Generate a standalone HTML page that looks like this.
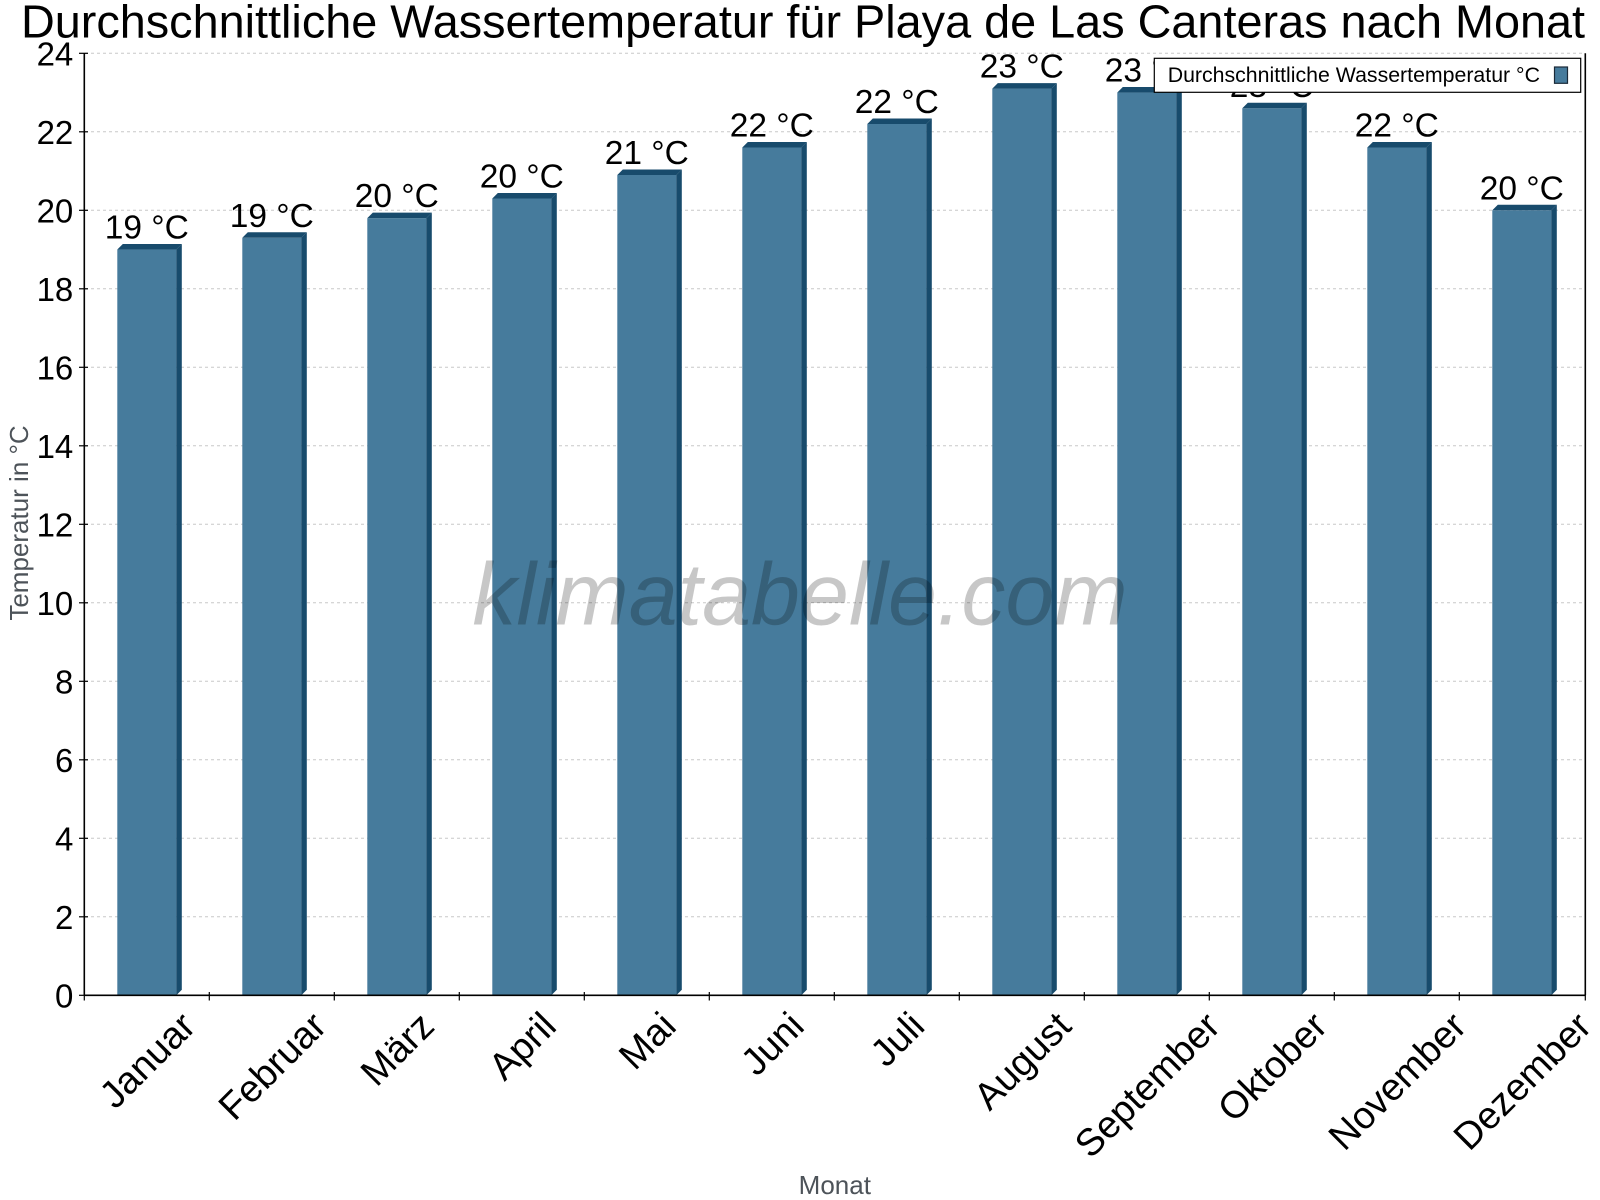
<!DOCTYPE html>
<html>
<head>
<meta charset="utf-8">
<style>
html,body{margin:0;padding:0;background:#fff;}
svg{display:block;}
text{font-family:"Liberation Sans",Arial,sans-serif;}
</style>
</head>
<body>
<svg width="1600" height="1200" viewBox="0 0 1600 1200" xmlns="http://www.w3.org/2000/svg">
<rect width="1600" height="1200" fill="#fff"/>
<!-- title -->
<text x="803" y="37.5" font-size="46.8" text-anchor="middle" fill="#000">Durchschnittliche Wassertemperatur für Playa de Las Canteras nach Monat</text>

<!-- grid -->
<g stroke="#c8c8c8" stroke-width="1" stroke-dasharray="3 3">
<line x1="85" y1="53.3" x2="1585" y2="53.3"/>
<line x1="85" y1="131.8" x2="1585" y2="131.8"/>
<line x1="85" y1="210.3" x2="1585" y2="210.3"/>
<line x1="85" y1="288.8" x2="1585" y2="288.8"/>
<line x1="85" y1="367.3" x2="1585" y2="367.3"/>
<line x1="85" y1="445.8" x2="1585" y2="445.8"/>
<line x1="85" y1="524.3" x2="1585" y2="524.3"/>
<line x1="85" y1="602.8" x2="1585" y2="602.8"/>
<line x1="85" y1="681.3" x2="1585" y2="681.3"/>
<line x1="85" y1="759.8" x2="1585" y2="759.8"/>
<line x1="85" y1="838.3" x2="1585" y2="838.3"/>
<line x1="85" y1="916.8" x2="1585" y2="916.8"/>
</g>

<!-- bars -->
<g id="bars">
<rect x="117.3" y="249.55" width="59" height="745.75" fill="#467b9c"/>
<polygon points="176.3,249.55 181.8,244.05 181.8,989.8 176.3,995.3" fill="#184b6c"/>
<polygon points="117.3,249.55 122.8,244.05 181.8,244.05 176.3,249.55" fill="#184b6c"/>
<rect x="242.3" y="237.8" width="59" height="757.5" fill="#467b9c"/>
<polygon points="301.3,237.8 306.8,232.3 306.8,989.8 301.3,995.3" fill="#184b6c"/>
<polygon points="242.3,237.8 247.8,232.3 306.8,232.3 301.3,237.8" fill="#184b6c"/>
<rect x="367.3" y="218.15" width="59" height="777.15" fill="#467b9c"/>
<polygon points="426.3,218.15 431.8,212.65 431.8,989.8 426.3,995.3" fill="#184b6c"/>
<polygon points="367.3,218.15 372.8,212.65 431.8,212.65 426.3,218.15" fill="#184b6c"/>
<rect x="492.3" y="198.5" width="59" height="796.8" fill="#467b9c"/>
<polygon points="551.3,198.5 556.8,193 556.8,989.8 551.3,995.3" fill="#184b6c"/>
<polygon points="492.3,198.5 497.8,193 556.8,193 551.3,198.5" fill="#184b6c"/>
<rect x="617.3" y="175" width="59" height="820.3" fill="#467b9c"/>
<polygon points="676.3,175 681.8,169.5 681.8,989.8 676.3,995.3" fill="#184b6c"/>
<polygon points="617.3,175 622.8,169.5 681.8,169.5 676.3,175" fill="#184b6c"/>
<rect x="742.3" y="147.5" width="59" height="847.8" fill="#467b9c"/>
<polygon points="801.3,147.5 806.8,142 806.8,989.8 801.3,995.3" fill="#184b6c"/>
<polygon points="742.3,147.5 747.8,142 806.8,142 801.3,147.5" fill="#184b6c"/>
<rect x="867.3" y="123.95" width="59" height="871.35" fill="#467b9c"/>
<polygon points="926.3,123.95 931.8,118.45 931.8,989.8 926.3,995.3" fill="#184b6c"/>
<polygon points="867.3,123.95 872.8,118.45 931.8,118.45 926.3,123.95" fill="#184b6c"/>
<rect x="992.3" y="88.6" width="59" height="906.7" fill="#467b9c"/>
<polygon points="1051.3,88.6 1056.8,83.1 1056.8,989.8 1051.3,995.3" fill="#184b6c"/>
<polygon points="992.3,88.6 997.8,83.1 1056.8,83.1 1051.3,88.6" fill="#184b6c"/>
<rect x="1117.3" y="92.55" width="59" height="902.75" fill="#467b9c"/>
<polygon points="1176.3,92.55 1181.8,87.05 1181.8,989.8 1176.3,995.3" fill="#184b6c"/>
<polygon points="1117.3,92.55 1122.8,87.05 1181.8,87.05 1176.3,92.55" fill="#184b6c"/>
<rect x="1242.3" y="108.25" width="59" height="887.05" fill="#467b9c"/>
<polygon points="1301.3,108.25 1306.8,102.75 1306.8,989.8 1301.3,995.3" fill="#184b6c"/>
<polygon points="1242.3,108.25 1247.8,102.75 1306.8,102.75 1301.3,108.25" fill="#184b6c"/>
<rect x="1367.3" y="147.5" width="59" height="847.8" fill="#467b9c"/>
<polygon points="1426.3,147.5 1431.8,142 1431.8,989.8 1426.3,995.3" fill="#184b6c"/>
<polygon points="1367.3,147.5 1372.8,142 1431.8,142 1426.3,147.5" fill="#184b6c"/>
<rect x="1492.3" y="210.3" width="59" height="785" fill="#467b9c"/>
<polygon points="1551.3,210.3 1556.8,204.8 1556.8,989.8 1551.3,995.3" fill="#184b6c"/>
<polygon points="1492.3,210.3 1497.8,204.8 1556.8,204.8 1551.3,210.3" fill="#184b6c"/>
</g>

<!-- watermark -->
<text x="800" y="624.3" font-size="88" font-style="italic" text-anchor="middle" fill="#000" fill-opacity="0.22">klimatabelle.com</text>

<!-- axes -->
<g stroke="#000" stroke-width="1.6" fill="none">
<line x1="84.3" y1="53.3" x2="84.3" y2="995.3"/>
<line x1="84.3" y1="995.3" x2="1585.3" y2="995.3"/>
<line x1="1585.3" y1="53.3" x2="1585.3" y2="995.3"/>
</g>
<g stroke="#000" stroke-width="1.2">
<line x1="79" y1="53.3" x2="88" y2="53.3"/>
<line x1="79" y1="131.8" x2="88" y2="131.8"/>
<line x1="79" y1="210.3" x2="88" y2="210.3"/>
<line x1="79" y1="288.8" x2="88" y2="288.8"/>
<line x1="79" y1="367.3" x2="88" y2="367.3"/>
<line x1="79" y1="445.8" x2="88" y2="445.8"/>
<line x1="79" y1="524.3" x2="88" y2="524.3"/>
<line x1="79" y1="602.8" x2="88" y2="602.8"/>
<line x1="79" y1="681.3" x2="88" y2="681.3"/>
<line x1="79" y1="759.8" x2="88" y2="759.8"/>
<line x1="79" y1="838.3" x2="88" y2="838.3"/>
<line x1="79" y1="916.8" x2="88" y2="916.8"/>
<line x1="79" y1="995.3" x2="88" y2="995.3"/>
<line x1="84.3" y1="992" x2="84.3" y2="1000.5"/>
<line x1="209.3" y1="992" x2="209.3" y2="1000.5"/>
<line x1="334.3" y1="992" x2="334.3" y2="1000.5"/>
<line x1="459.3" y1="992" x2="459.3" y2="1000.5"/>
<line x1="584.3" y1="992" x2="584.3" y2="1000.5"/>
<line x1="709.3" y1="992" x2="709.3" y2="1000.5"/>
<line x1="834.3" y1="992" x2="834.3" y2="1000.5"/>
<line x1="959.3" y1="992" x2="959.3" y2="1000.5"/>
<line x1="1084.3" y1="992" x2="1084.3" y2="1000.5"/>
<line x1="1209.3" y1="992" x2="1209.3" y2="1000.5"/>
<line x1="1334.3" y1="992" x2="1334.3" y2="1000.5"/>
<line x1="1459.3" y1="992" x2="1459.3" y2="1000.5"/>
<line x1="1585.3" y1="992" x2="1585.3" y2="1000.5"/>
</g>

<!-- y tick labels -->
<g font-size="33" text-anchor="end" fill="#000">
<text x="73.3" y="65.5">24</text>
<text x="73.3" y="144">22</text>
<text x="73.3" y="222.5">20</text>
<text x="73.3" y="301">18</text>
<text x="73.3" y="379.5">16</text>
<text x="73.3" y="458">14</text>
<text x="73.3" y="536.5">12</text>
<text x="73.3" y="615">10</text>
<text x="73.3" y="693.5">8</text>
<text x="73.3" y="772">6</text>
<text x="73.3" y="850.5">4</text>
<text x="73.3" y="929">2</text>
<text x="73.3" y="1007.5">0</text>
</g>

<!-- y axis title -->
<text x="28" y="523" font-size="26" fill="#4d5359" text-anchor="middle" transform="rotate(-90 28 523)">Temperatur in °C</text>

<!-- x labels -->
<g font-size="38" text-anchor="middle" fill="#000">
<text x="146.8" y="1073.3" transform="rotate(-45 146.8 1059.7)">Januar</text>
<text x="271.8" y="1079.2" transform="rotate(-45 271.8 1065.6)">Februar</text>
<text x="396.8" y="1062.1" transform="rotate(-45 396.8 1048.5)">März</text>
<text x="521.8" y="1059.1" transform="rotate(-45 521.8 1045.5)">April</text>
<text x="646.8" y="1053.9" transform="rotate(-45 646.8 1040.3)">Mai</text>
<text x="771.8" y="1056.9" transform="rotate(-45 771.8 1043.3)">Juni</text>
<text x="896.8" y="1052.4" transform="rotate(-45 896.8 1038.8)">Juli</text>
<text x="1021.8" y="1074" transform="rotate(-45 1021.8 1060.4)">August</text>
<text x="1146.8" y="1098" transform="rotate(-45 1146.8 1084.4)">September</text>
<text x="1271.8" y="1080" transform="rotate(-45 1271.8 1066.4)">Oktober</text>
<text x="1396.8" y="1094.2" transform="rotate(-45 1396.8 1080.6)">November</text>
<text x="1521.8" y="1094.2" transform="rotate(-45 1521.8 1080.6)">Dezember</text>
</g>

<!-- x axis title -->
<text x="834.8" y="1194" font-size="26" fill="#4d5359" text-anchor="middle">Monat</text>

<!-- bar value labels -->
<g font-size="33.5" text-anchor="middle" fill="#000">
<text x="146.8" y="238.5">19 °C</text>
<text x="271.8" y="226.8">19 °C</text>
<text x="396.8" y="207.2">20 °C</text>
<text x="521.8" y="187.5">20 °C</text>
<text x="646.8" y="164">21 °C</text>
<text x="771.8" y="136.5">22 °C</text>
<text x="896.8" y="113">22 °C</text>
<text x="1021.8" y="77.6">23 °C</text>
<text x="1146.8" y="81.5">23 °C</text>
<text x="1271.8" y="97.2">23 °C</text>
<text x="1396.8" y="136.5">22 °C</text>
<text x="1521.8" y="199.3">20 °C</text>
</g>

<!-- legend -->
<rect x="1154.3" y="58.3" width="426.4" height="34" fill="#fff" stroke="#000" stroke-width="1.2"/>
<text x="1167.7" y="82" font-size="21.3" fill="#000">Durchschnittliche Wassertemperatur °C</text>
<rect x="1554.5" y="67" width="13" height="16.3" fill="#467b9c" stroke="#1a2a38" stroke-width="1.2"/>
</svg>
</body>
</html>
